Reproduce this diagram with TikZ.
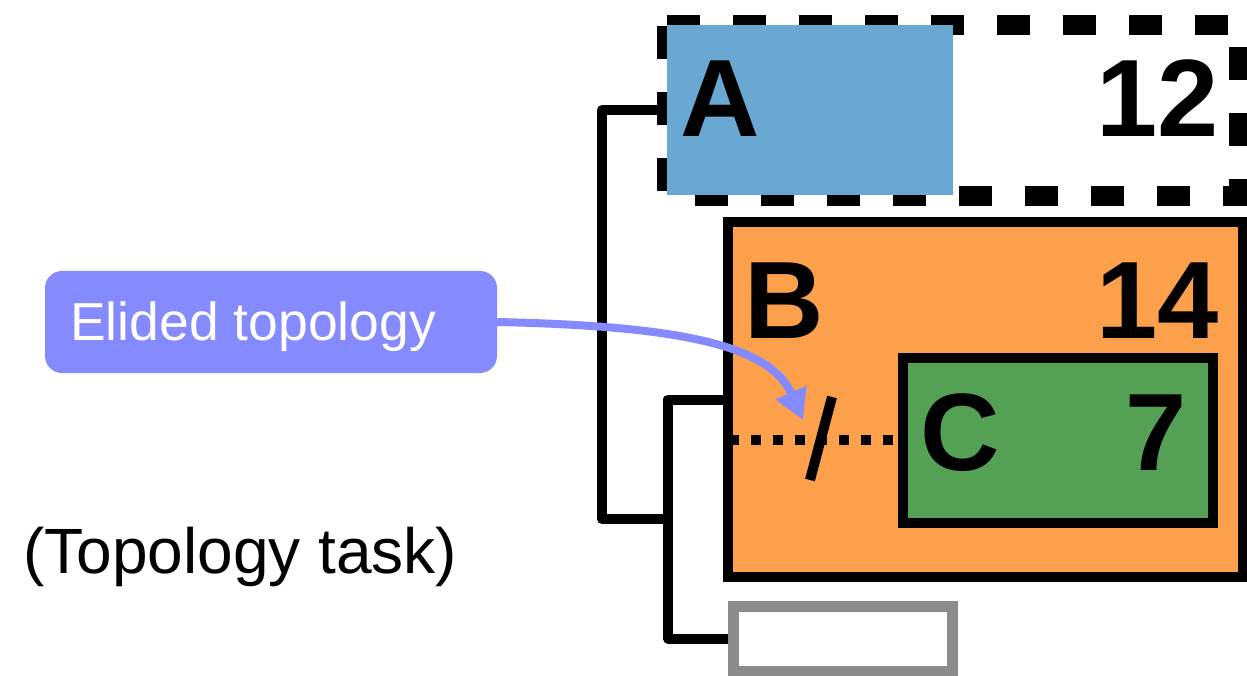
\documentclass[tikz,border=0pt]{standalone}
\usepackage{fontspec}
\setmainfont{Liberation Sans}
\usetikzlibrary{arrows.meta}
\definecolor{cblue}{RGB}{106,168,212}
\definecolor{corange}{RGB}{253,160,75}
\definecolor{cgreen}{RGB}{84,160,84}
\definecolor{cpurple}{RGB}{133,138,254}
\definecolor{cgray}{RGB}{140,140,140}
\tikzset{
  lbl/.style={font=\fontsize{110}{110}\selectfont\bfseries, inner sep=0pt},
  boxstyle/.style={draw=black, line width=10pt, inner sep=0pt},
  tree/.style={draw=black, line width=10pt, line join=round},
  dotline/.style={draw=black, line width=10pt, dash pattern=on 10pt off 12pt, dash phase=16pt},
  dashframe/.style={draw=black, line width=20pt, dash pattern=on 33pt off 33pt},
  callout/.style={fill=cpurple, rounded corners=17pt, inner sep=0pt, text=white},
  arr/.style={draw=cpurple, line width=8pt, -{Triangle[length=30pt,width=32pt]}},
}
\begin{document}
\begin{tikzpicture}[x=1pt,y=-1pt]
\useasboundingbox (0,0) rectangle (1247,676);
% A frame (dashed)
\coordinate (F1) at (667,25);
\coordinate (F2) at (1239,25);
\coordinate (F3) at (1239,196);
\coordinate (F4) at (667,196);
\draw[dashframe] (F1) -- (F2) -- (F3) -- (F4) -- cycle;
\node[fill=cblue, inner sep=0pt, minimum width=286pt, minimum height=170pt] (A) at (810,110) {};
\node[lbl, anchor=base west] (lA) at (680,137) {A};
\node[lbl, anchor=base east] (l12) at (1219,137) {12};
% B box
\node[boxstyle, fill=corange, minimum width=515pt, minimum height=355pt] (B) at (985.5,399.5) {};
\node[lbl, anchor=base west] (lB) at (744,338) {B};
\node[lbl, anchor=base east] (l14) at (1219,338) {14};
% C box
\node[boxstyle, fill=cgreen, minimum width=310pt, minimum height=165pt] (C) at (1058,440) {};
\node[lbl, anchor=base west] (lC) at (920,470) {C};
\node[lbl, anchor=base east] (l7) at (1187,470) {7};
% dotted elided edge
\draw[dotline] (B.west |- C.west) -- (C.west);
\coordinate (S1) at (832,397);
\coordinate (S2) at (810,480);
\draw[black, line width=10pt] (S1) -- (S2);
% empty gray box
\node[draw=cgray, line width=11pt, fill=white, inner sep=0pt, minimum width=219pt, minimum height=65pt] (W) at (842.5,638.5) {};
% tree connectors
\coordinate (R) at (602,519);
\coordinate (J) at (668,519);
\draw[tree] (A.west) -| (R) -- (J);
\draw[tree] (B.west) -| (J) |- (W.west);
% callout
\node[callout, minimum width=452pt, minimum height=102pt] (call) at (271,322) {};
\node[font=\fontsize{53.5}{53.5}\selectfont, text=white, inner sep=0pt, anchor=base west] (calltxt) at (70,340) {Elided topology};
\coordinate (T) at (803,420);
\draw[arr] (call.east) .. controls (680,326) and (770,345) .. (T);
% caption
\node[font=\fontsize{64}{64}\selectfont, inner sep=0pt, anchor=base west] (cap) at (23,573) {(Topology task)};
\end{tikzpicture}
\end{document}
